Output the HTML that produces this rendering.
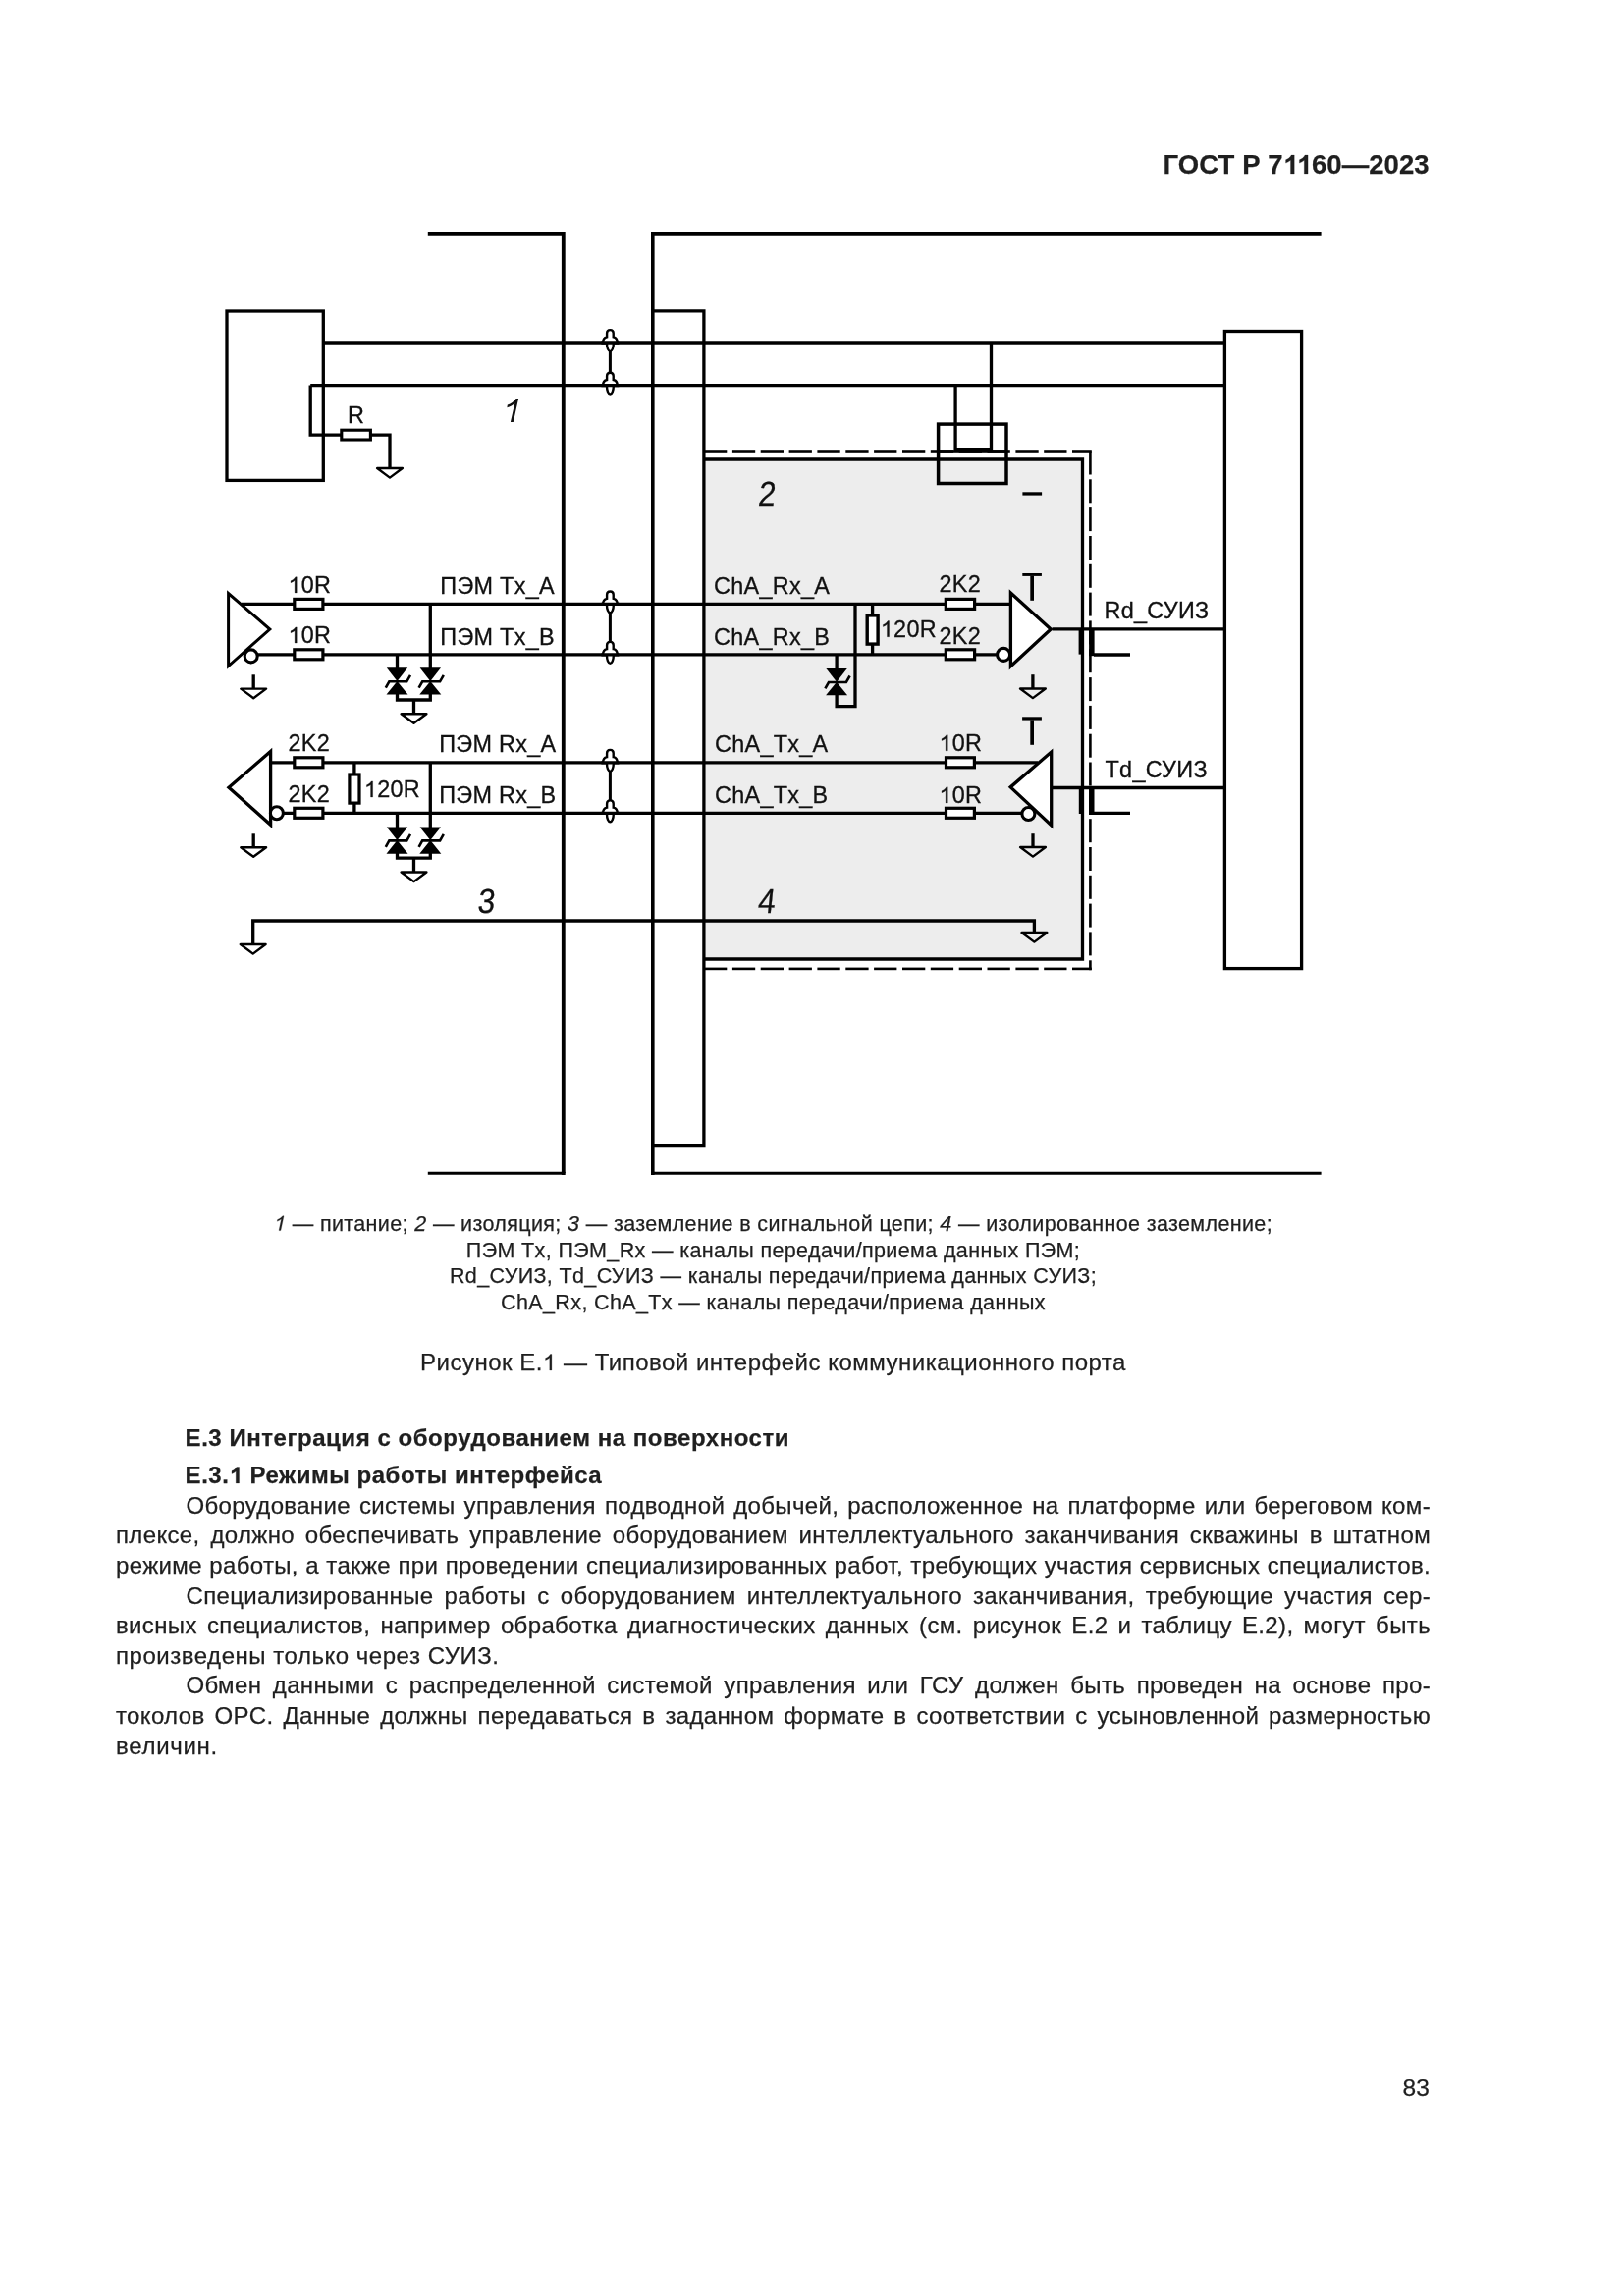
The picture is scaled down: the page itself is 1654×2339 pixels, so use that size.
<!DOCTYPE html>
<html><head><meta charset="utf-8">
<style>
html,body{margin:0;padding:0;background:#fff;}
body{width:1654px;height:2339px;position:relative;overflow:hidden;filter:grayscale(1);font-family:"Liberation Sans",sans-serif;color:#1f1f1f;-webkit-text-stroke:0.25px #1f1f1f;}
body>svg{position:absolute;left:0;top:0;}
.g1{display:inline;position:static;}
svg text{font-family:"Liberation Sans",sans-serif;fill:#111;letter-spacing:0.3px;stroke:#111;stroke-width:0.3px;}
.hdr{position:absolute;right:197px;top:0;font-weight:bold;font-size:27.5px;letter-spacing:0.2px;line-height:0;white-space:nowrap;}
.hdr span{position:absolute;right:0;}
.ab{position:absolute;white-space:nowrap;line-height:0;}
.lg{position:absolute;left:119px;width:1337px;text-align:center;font-size:21.5px;letter-spacing:0.37px;line-height:0;white-space:nowrap;}
.cap{position:absolute;left:119px;width:1337px;text-align:center;font-size:24px;letter-spacing:0.5px;line-height:0;white-space:nowrap;}
.h{position:absolute;left:188.6px;font-weight:bold;font-size:24px;letter-spacing:0.54px;line-height:0;white-space:nowrap;}
.bl{position:absolute;left:118px;width:1339px;font-size:24px;letter-spacing:0.35px;line-height:0;height:0;text-align:justify;text-align-last:justify;white-space:nowrap;}
.bl.ind{left:189.5px;width:1267.5px;}
.bl.nj{letter-spacing:0.4px;}
.bl.nj{text-align:left;text-align-last:left;}
.o1{color:transparent;-webkit-text-stroke:0;}
.pn{position:absolute;font-size:24.5px;line-height:0;white-space:nowrap;}
</style></head>
<body>
<div class="ab" style="left:1184.5px;top:168.37px;font-weight:bold;font-size:27.5px;letter-spacing:0.08px;">ГОСТ Р 7<span class="o1">1</span><span class="o1">1</span>60—2023</div>
<svg width="1654" height="2339" viewBox="0 0 1654 2339">
<rect x="717.0" y="468.0" width="385.5" height="509.0" fill="#ededed"/>
<path d="M435.8,237.9 L573.8,237.9 L573.8,1195.3" fill="none" stroke="#000" stroke-width="3.8" stroke-linejoin="miter"  stroke-linecap="butt"/>
<path d="M573.8,1195.3 L435.8,1195.3" fill="none" stroke="#000" stroke-width="3.1" stroke-linejoin="miter"  stroke-linecap="butt"/>
<path d="M1345.6,237.9 L664.8,237.9 L664.8,1195.3" fill="none" stroke="#000" stroke-width="3.6" stroke-linejoin="miter"  stroke-linecap="butt"/>
<path d="M664.8,1195.3 L1345.6,1195.3" fill="none" stroke="#000" stroke-width="3.1" stroke-linejoin="miter"  stroke-linecap="butt"/>
<rect x="571.9" y="1193.8" width="3.8" height="3.2" fill="#000"/>
<rect x="663.0" y="1193.8" width="3.6" height="3.2" fill="#000"/>
<path d="M664.8,316.9 L716.9,316.9 L716.9,1166.6 L664.8,1166.6" fill="none" stroke="#000" stroke-width="3.3" stroke-linejoin="miter"  stroke-linecap="butt"/>
<path d="M716.9,468.0 L1102.5,468.0 L1102.5,977.0 L716.9,977.0" fill="none" stroke="#000" stroke-width="3.3" stroke-linejoin="miter"  stroke-linecap="butt"/>
<rect x="717.0" y="458.2" width="23.3" height="2.6" fill="#000"/>
<rect x="717.0" y="985.6" width="23.3" height="2.6" fill="#000"/>
<rect x="745.9" y="458.2" width="23.3" height="2.6" fill="#000"/>
<rect x="745.9" y="985.6" width="23.3" height="2.6" fill="#000"/>
<rect x="774.7" y="458.2" width="23.3" height="2.6" fill="#000"/>
<rect x="774.7" y="985.6" width="23.3" height="2.6" fill="#000"/>
<rect x="803.6" y="458.2" width="23.3" height="2.6" fill="#000"/>
<rect x="803.6" y="985.6" width="23.3" height="2.6" fill="#000"/>
<rect x="832.4" y="458.2" width="23.3" height="2.6" fill="#000"/>
<rect x="832.4" y="985.6" width="23.3" height="2.6" fill="#000"/>
<rect x="861.3" y="458.2" width="23.3" height="2.6" fill="#000"/>
<rect x="861.3" y="985.6" width="23.3" height="2.6" fill="#000"/>
<rect x="890.1" y="458.2" width="23.3" height="2.6" fill="#000"/>
<rect x="890.1" y="985.6" width="23.3" height="2.6" fill="#000"/>
<rect x="919.0" y="458.2" width="23.3" height="2.6" fill="#000"/>
<rect x="919.0" y="985.6" width="23.3" height="2.6" fill="#000"/>
<rect x="947.8" y="458.2" width="23.3" height="2.6" fill="#000"/>
<rect x="947.8" y="985.6" width="23.3" height="2.6" fill="#000"/>
<rect x="976.7" y="458.2" width="23.3" height="2.6" fill="#000"/>
<rect x="976.7" y="985.6" width="23.3" height="2.6" fill="#000"/>
<rect x="1005.5" y="458.2" width="23.3" height="2.6" fill="#000"/>
<rect x="1005.5" y="985.6" width="23.3" height="2.6" fill="#000"/>
<rect x="1034.4" y="458.2" width="23.3" height="2.6" fill="#000"/>
<rect x="1034.4" y="985.6" width="23.3" height="2.6" fill="#000"/>
<rect x="1063.2" y="458.2" width="23.3" height="2.6" fill="#000"/>
<rect x="1063.2" y="985.6" width="23.3" height="2.6" fill="#000"/>
<rect x="1092.0" y="458.2" width="19.8" height="2.6" fill="#000"/>
<rect x="1092.0" y="985.6" width="19.8" height="2.6" fill="#000"/>
<rect x="1109.1" y="459.5" width="2.6" height="24.0" fill="#000"/>
<rect x="1109.1" y="488.3" width="2.6" height="24.0" fill="#000"/>
<rect x="1109.1" y="517.1" width="2.6" height="24.0" fill="#000"/>
<rect x="1109.1" y="546.0" width="2.6" height="24.0" fill="#000"/>
<rect x="1109.1" y="574.8" width="2.6" height="24.0" fill="#000"/>
<rect x="1109.1" y="603.6" width="2.6" height="24.0" fill="#000"/>
<rect x="1109.1" y="632.4" width="2.6" height="24.0" fill="#000"/>
<rect x="1109.1" y="661.2" width="2.6" height="24.0" fill="#000"/>
<rect x="1109.1" y="690.1" width="2.6" height="24.0" fill="#000"/>
<rect x="1109.1" y="718.9" width="2.6" height="24.0" fill="#000"/>
<rect x="1109.1" y="747.7" width="2.6" height="24.0" fill="#000"/>
<rect x="1109.1" y="776.5" width="2.6" height="24.0" fill="#000"/>
<rect x="1109.1" y="805.3" width="2.6" height="24.0" fill="#000"/>
<rect x="1109.1" y="834.2" width="2.6" height="24.0" fill="#000"/>
<rect x="1109.1" y="863.0" width="2.6" height="24.0" fill="#000"/>
<rect x="1109.1" y="891.8" width="2.6" height="24.0" fill="#000"/>
<rect x="1109.1" y="920.6" width="2.6" height="24.0" fill="#000"/>
<rect x="1109.1" y="949.4" width="2.6" height="24.0" fill="#000"/>
<rect x="1109.1" y="978.3" width="2.6" height="9.9" fill="#000"/>
<rect x="955.6" y="458.2" width="69.4" height="2.6" fill="#000"/>
<rect x="231.0" y="317.0" width="98.3" height="172.4" fill="none" stroke="#000" stroke-width="3.3"/>
<rect x="1247.4" y="337.5" width="78.2" height="649.1" fill="none" stroke="#000" stroke-width="3.3"/>
<path d="M329.3,349.0 L1247.4,349.0" fill="none" stroke="#000" stroke-width="3.3" stroke-linejoin="miter" stroke-linecap="butt"/>
<path d="M316.2,392.6 L1247.4,392.6" fill="none" stroke="#000" stroke-width="3.3" stroke-linejoin="miter" stroke-linecap="butt"/>
<path d="M316.2,392.6 L316.2,443.1 L350.0,443.1" fill="none" stroke="#000" stroke-width="3.3" stroke-linejoin="miter"  stroke-linecap="butt"/>
<path d="M376.0,443.1 L397.0,443.1 L397.0,477.0" fill="none" stroke="#000" stroke-width="3.3" stroke-linejoin="miter"  stroke-linecap="butt"/>
<rect x="347.8" y="438.2" width="29.6" height="9.8" fill="#fff" stroke="#000" stroke-width="3.1"/>
<path d="M384.1,477.0 L409.9,477.0 L397.0,486.6 Z" fill="none" stroke="#000" stroke-width="2.4" stroke-linejoin="round"/>
<text x="354.0" y="430.8" font-size="23.4" >R</text>
<path transform="translate(516.5,430.1)" d="M3.4,0 L6.3,0 L11.6,-24.1 L9.1,-24.1 C7.0,-21.1 4.0,-18.6 0.3,-17.6 L-0.1,-14.9 C3.1,-15.8 5.8,-17.4 7.8,-19.4 Z" fill="#111"/>
<path d="M1009.5,349.0 L1009.5,457.7 L973.1,457.7 L973.1,392.6" fill="none" stroke="#000" stroke-width="3.3" stroke-linejoin="miter"  stroke-linecap="butt"/>
<rect x="955.6" y="432.1" width="69.4" height="60.4" fill="none" stroke="#000" stroke-width="3.5"/>
<rect x="1041.4" y="501.3" width="19.7" height="3.3" fill="#000"/>
<text transform="translate(771.5,514.7) skewX(-6) scale(0.9,1)" x="0" y="0" font-size="35" stroke="#111" stroke-width="0.45" style="letter-spacing:0">2</text>
<path d="M246.0,615.4 L1029.4,615.4" fill="none" stroke="#000" stroke-width="3.3" stroke-linejoin="miter" stroke-linecap="butt"/>
<path d="M261.0,666.8 L1015.6,666.8" fill="none" stroke="#000" stroke-width="3.3" stroke-linejoin="miter" stroke-linecap="butt"/>
<rect x="299.8" y="610.4" width="29.1" height="10.0" fill="#fff" stroke="#000" stroke-width="3.2"/>
<rect x="299.8" y="661.8" width="29.1" height="10.0" fill="#fff" stroke="#000" stroke-width="3.2"/>
<rect x="963.3" y="610.4" width="29.3" height="10.0" fill="#fff" stroke="#000" stroke-width="3.2"/>
<rect x="963.3" y="661.8" width="29.3" height="10.0" fill="#fff" stroke="#000" stroke-width="3.2"/>
<path d="M232.6,604.5 L232.6,678.5 L274.8,641.1 Z" fill="#fff" stroke="#000" stroke-width="3.0" stroke-linejoin="miter" stroke-miterlimit="10"/>
<circle cx="255.7" cy="668.4" r="6.5" fill="#fff" stroke="#000" stroke-width="3.1"/>
<path d="M258.2,687.3 L258.2,701.6" fill="none" stroke="#000" stroke-width="3.3" stroke-linejoin="miter"  stroke-linecap="butt"/>
<path d="M245.3,701.6 L271.1,701.6 L258.2,711.2 Z" fill="none" stroke="#000" stroke-width="2.4" stroke-linejoin="round"/>
<path d="M438.3,615.4 L438.3,690.0" fill="none" stroke="#000" stroke-width="3.3" stroke-linejoin="miter" stroke-linecap="butt"/>
<path d="M404.5,666.8 L404.5,690.0" fill="none" stroke="#000" stroke-width="3.3" stroke-linejoin="miter" stroke-linecap="butt"/>
<path d="M404.5,700.0 L404.5,713.0 L438.3,713.0 L438.3,700.0" fill="none" stroke="#000" stroke-width="3.3" stroke-linejoin="miter"  stroke-linecap="butt"/>
<path d="M393.8,680.3 L415.2,680.3 L404.5,694.0 Z" fill="#000"/>
<path d="M393.5,707.6 L415.5,707.6 L404.5,694.0 Z" fill="#000"/>
<path d="M392.8,700.7 L396.4,694.3 L414.3,694.3 L418.0,687.8" fill="none" stroke="#000" stroke-width="2.6" stroke-linejoin="miter"/>
<path d="M427.6,680.3 L449.0,680.3 L438.3,694.0 Z" fill="#000"/>
<path d="M427.3,707.6 L449.3,707.6 L438.3,694.0 Z" fill="#000"/>
<path d="M426.6,700.7 L430.2,694.3 L448.1,694.3 L451.8,687.8" fill="none" stroke="#000" stroke-width="2.6" stroke-linejoin="miter"/>
<path d="M421.5,713.0 L421.5,727.2" fill="none" stroke="#000" stroke-width="3.3" stroke-linejoin="miter"  stroke-linecap="butt"/>
<path d="M408.6,727.2 L434.4,727.2 L421.5,736.8 Z" fill="none" stroke="#000" stroke-width="2.4" stroke-linejoin="round"/>
<path d="M871.0,615.4 L871.0,719.6 L852.1,719.6 L852.1,700.0" fill="none" stroke="#000" stroke-width="3.3" stroke-linejoin="miter"  stroke-linecap="butt"/>
<path d="M852.1,666.8 L852.1,690.0" fill="none" stroke="#000" stroke-width="3.3" stroke-linejoin="miter" stroke-linecap="butt"/>
<path d="M841.4,681.0 L862.8,681.0 L852.1,694.7 Z" fill="#000"/>
<path d="M841.1,708.3 L863.1,708.3 L852.1,694.7 Z" fill="#000"/>
<path d="M840.4,701.4 L844.0,695.0 L861.9,695.0 L865.6,688.5" fill="none" stroke="#000" stroke-width="2.6" stroke-linejoin="miter"/>
<path d="M888.6,615.4 L888.6,666.8" fill="none" stroke="#000" stroke-width="3.3" stroke-linejoin="miter" stroke-linecap="butt"/>
<rect x="883.2" y="626.9" width="10.9" height="29.2" fill="#fff" stroke="#000" stroke-width="3.4"/>
<path d="M1029.4,604.0 L1029.4,678.8 L1070.2,641.0 Z" fill="#fff" stroke="#000" stroke-width="3.3" stroke-linejoin="miter" stroke-miterlimit="10"/>
<circle cx="1022.1" cy="666.9" r="6.5" fill="#fff" stroke="#000" stroke-width="3.1"/>
<path d="M1051.9,687.2 L1051.9,701.5" fill="none" stroke="#000" stroke-width="3.3" stroke-linejoin="miter"  stroke-linecap="butt"/>
<path d="M1039.0,701.5 L1064.8,701.5 L1051.9,711.1 Z" fill="none" stroke="#000" stroke-width="2.4" stroke-linejoin="round"/>
<rect x="1041.3" y="584.0" width="19.6" height="2.9" fill="#000"/>
<rect x="1049.3" y="586.7" width="3.7" height="25.1" fill="#000"/>
<path d="M1071.6,640.8 L1247.4,640.8" fill="none" stroke="#000" stroke-width="3.3" stroke-linejoin="miter" stroke-linecap="butt"/>
<rect x="1098.6" y="640.5" width="5.4" height="26.1" fill="#000"/>
<rect x="1109.1" y="640.5" width="5.5" height="27.7" fill="#000"/>
<path d="M1114.0,667.0 L1151.0,667.0" fill="none" stroke="#000" stroke-width="3.3" stroke-linejoin="miter" stroke-linecap="butt"/>
<path d="M275.6,776.8 L1057.0,776.8" fill="none" stroke="#000" stroke-width="3.3" stroke-linejoin="miter" stroke-linecap="butt"/>
<path d="M288.0,828.3 L1041.5,828.3" fill="none" stroke="#000" stroke-width="3.3" stroke-linejoin="miter" stroke-linecap="butt"/>
<rect x="299.8" y="771.8" width="29.1" height="10.0" fill="#fff" stroke="#000" stroke-width="3.2"/>
<rect x="299.8" y="823.3" width="29.1" height="10.0" fill="#fff" stroke="#000" stroke-width="3.2"/>
<rect x="963.5" y="771.8" width="28.9" height="10.0" fill="#fff" stroke="#000" stroke-width="3.2"/>
<rect x="963.5" y="823.3" width="28.9" height="10.0" fill="#fff" stroke="#000" stroke-width="3.2"/>
<path d="M275.6,765.4 L275.6,840.2 L233.0,802.3 Z" fill="#fff" stroke="#000" stroke-width="3.3" stroke-linejoin="miter" stroke-miterlimit="10"/>
<circle cx="281.9" cy="828.2" r="6.5" fill="#fff" stroke="#000" stroke-width="3.1"/>
<path d="M258.2,849.3 L258.2,863.2" fill="none" stroke="#000" stroke-width="3.3" stroke-linejoin="miter"  stroke-linecap="butt"/>
<path d="M245.3,863.2 L271.1,863.2 L258.2,872.8 Z" fill="none" stroke="#000" stroke-width="2.4" stroke-linejoin="round"/>
<path d="M360.9,776.8 L360.9,828.3" fill="none" stroke="#000" stroke-width="3.3" stroke-linejoin="miter" stroke-linecap="butt"/>
<rect x="355.9" y="789.0" width="10.1" height="29.1" fill="#fff" stroke="#000" stroke-width="3.2"/>
<path d="M438.3,776.8 L438.3,850.0" fill="none" stroke="#000" stroke-width="3.3" stroke-linejoin="miter" stroke-linecap="butt"/>
<path d="M404.5,828.3 L404.5,850.0" fill="none" stroke="#000" stroke-width="3.3" stroke-linejoin="miter" stroke-linecap="butt"/>
<path d="M404.5,862.0 L404.5,874.2 L438.3,874.2 L438.3,862.0" fill="none" stroke="#000" stroke-width="3.3" stroke-linejoin="miter"  stroke-linecap="butt"/>
<path d="M393.8,842.4 L415.2,842.4 L404.5,856.1 Z" fill="#000"/>
<path d="M393.5,869.7 L415.5,869.7 L404.5,856.1 Z" fill="#000"/>
<path d="M392.8,862.8 L396.4,856.4 L414.3,856.4 L418.0,849.9" fill="none" stroke="#000" stroke-width="2.6" stroke-linejoin="miter"/>
<path d="M427.6,842.4 L449.0,842.4 L438.3,856.1 Z" fill="#000"/>
<path d="M427.3,869.7 L449.3,869.7 L438.3,856.1 Z" fill="#000"/>
<path d="M426.6,862.8 L430.2,856.4 L448.1,856.4 L451.8,849.9" fill="none" stroke="#000" stroke-width="2.6" stroke-linejoin="miter"/>
<path d="M421.5,874.2 L421.5,888.5" fill="none" stroke="#000" stroke-width="3.3" stroke-linejoin="miter"  stroke-linecap="butt"/>
<path d="M408.6,888.5 L434.4,888.5 L421.5,898.1 Z" fill="none" stroke="#000" stroke-width="2.4" stroke-linejoin="round"/>
<path d="M1070.7,766.0 L1070.7,840.8 L1029.2,801.9 Z" fill="#fff" stroke="#000" stroke-width="3.3" stroke-linejoin="miter" stroke-miterlimit="10"/>
<circle cx="1047.4" cy="829.0" r="6.5" fill="#fff" stroke="#000" stroke-width="3.1"/>
<path d="M1052.0,849.2 L1052.0,863.0" fill="none" stroke="#000" stroke-width="3.3" stroke-linejoin="miter"  stroke-linecap="butt"/>
<path d="M1039.1,863.0 L1064.9,863.0 L1052.0,872.6 Z" fill="none" stroke="#000" stroke-width="2.4" stroke-linejoin="round"/>
<rect x="1041.1" y="730.3" width="19.8" height="3.3" fill="#000"/>
<rect x="1049.3" y="733.4" width="3.7" height="25.4" fill="#000"/>
<path d="M1072.0,802.5 L1247.4,802.5" fill="none" stroke="#000" stroke-width="3.3" stroke-linejoin="miter" stroke-linecap="butt"/>
<rect x="1098.8" y="802.0" width="5.2" height="27.0" fill="#000"/>
<rect x="1109.0" y="802.0" width="5.5" height="28.0" fill="#000"/>
<path d="M1114.0,828.3 L1151.0,828.3" fill="none" stroke="#000" stroke-width="3.3" stroke-linejoin="miter" stroke-linecap="butt"/>
<path d="M621.4,358.0 L621.4,379.6" fill="none" stroke="#000" stroke-width="3.0" stroke-linejoin="miter" stroke-linecap="butt"/>
<path d="M614.1,349.0 C614.1,345.5 615.4,344.0 618.1,343.4 L618.1,339.4 C618.1,335.0 624.7,335.0 624.7,339.4 L624.7,343.4 C627.4,344.0 628.7,345.5 628.7,349.0 M618.0,350.0 C618.0,354.5 619.6,357.9 621.4,357.9 C623.2,357.9 624.8,354.5 624.8,350.0" fill="#fff" stroke="#000" stroke-width="2.4"/>
<path d="M614.1,392.6 C614.1,389.1 615.4,387.6 618.1,387.0 L618.1,383.0 C618.1,378.6 624.7,378.6 624.7,383.0 L624.7,387.0 C627.4,387.6 628.7,389.1 628.7,392.6 M618.0,393.6 C618.0,398.1 619.6,401.5 621.4,401.5 C623.2,401.5 624.8,398.1 624.8,393.6" fill="#fff" stroke="#000" stroke-width="2.4"/>
<path d="M612.4,349.0 H630.4 M612.4,392.6 H630.4" stroke="#000" stroke-width="3.3" fill="none"/>
<path d="M621.4,624.4 L621.4,653.8" fill="none" stroke="#000" stroke-width="3.0" stroke-linejoin="miter" stroke-linecap="butt"/>
<path d="M614.1,615.4 C614.1,611.9 615.4,610.4 618.1,609.8 L618.1,605.8 C618.1,601.4 624.7,601.4 624.7,605.8 L624.7,609.8 C627.4,610.4 628.7,611.9 628.7,615.4 M618.0,616.4 C618.0,620.9 619.6,624.3 621.4,624.3 C623.2,624.3 624.8,620.9 624.8,616.4" fill="#fff" stroke="#000" stroke-width="2.4"/>
<path d="M614.1,666.8 C614.1,663.3 615.4,661.8 618.1,661.2 L618.1,657.2 C618.1,652.8 624.7,652.8 624.7,657.2 L624.7,661.2 C627.4,661.8 628.7,663.3 628.7,666.8 M618.0,667.8 C618.0,672.3 619.6,675.7 621.4,675.7 C623.2,675.7 624.8,672.3 624.8,667.8" fill="#fff" stroke="#000" stroke-width="2.4"/>
<path d="M612.4,615.4 H630.4 M612.4,666.8 H630.4" stroke="#000" stroke-width="3.3" fill="none"/>
<path d="M621.4,785.8 L621.4,815.3" fill="none" stroke="#000" stroke-width="3.0" stroke-linejoin="miter" stroke-linecap="butt"/>
<path d="M614.1,776.8 C614.1,773.3 615.4,771.8 618.1,771.2 L618.1,767.2 C618.1,762.8 624.7,762.8 624.7,767.2 L624.7,771.2 C627.4,771.8 628.7,773.3 628.7,776.8 M618.0,777.8 C618.0,782.3 619.6,785.7 621.4,785.7 C623.2,785.7 624.8,782.3 624.8,777.8" fill="#fff" stroke="#000" stroke-width="2.4"/>
<path d="M614.1,828.3 C614.1,824.8 615.4,823.3 618.1,822.7 L618.1,818.7 C618.1,814.3 624.7,814.3 624.7,818.7 L624.7,822.7 C627.4,823.3 628.7,824.8 628.7,828.3 M618.0,829.3 C618.0,833.8 619.6,837.2 621.4,837.2 C623.2,837.2 624.8,833.8 624.8,829.3" fill="#fff" stroke="#000" stroke-width="2.4"/>
<path d="M612.4,776.8 H630.4 M612.4,828.3 H630.4" stroke="#000" stroke-width="3.3" fill="none"/>
<path d="M1053.4,950.0 L1053.4,938.0 L257.7,938.0 L257.7,962.0" fill="none" stroke="#000" stroke-width="3.3" stroke-linejoin="miter" stroke-linecap="butt"/>
<path d="M244.8,962.0 L270.6,962.0 L257.7,971.6 Z" fill="none" stroke="#000" stroke-width="2.4" stroke-linejoin="round"/>
<path d="M1040.5,950.0 L1066.3,950.0 L1053.4,959.6 Z" fill="none" stroke="#000" stroke-width="2.4" stroke-linejoin="round"/>
<text transform="translate(485.7,929.7) skewX(-6) scale(0.9,1)" x="0" y="0" font-size="35" stroke="#111" stroke-width="0.45" style="letter-spacing:0">3</text>
<text transform="translate(771.3,930.3) skewX(-6) scale(0.9,1)" x="0" y="0" font-size="35" stroke="#111" stroke-width="0.45" style="letter-spacing:0">4</text>
<path transform="translate(293.50,603.90) scale(0.01143,-0.01098)" d="M763,0 L583,0 L583,1147 Q518,1085 415,1024.5 Q312,964 223,931 L223,1105 Q374,1176 485,1275 Q596,1374 646,1466 L763,1466 Z" fill="#111" stroke="#111" stroke-width="26.3"/>
<text x="293.5" y="603.9" font-size="23.4" > 0R</text>
<path transform="translate(293.50,655.00) scale(0.01143,-0.01098)" d="M763,0 L583,0 L583,1147 Q518,1085 415,1024.5 Q312,964 223,931 L223,1105 Q374,1176 485,1275 Q596,1374 646,1466 L763,1466 Z" fill="#111" stroke="#111" stroke-width="26.3"/>
<text x="293.5" y="655.0" font-size="23.4" > 0R</text>
<text x="448.3" y="604.6" font-size="23.4" >ПЭМ Tx_A</text>
<text x="448.3" y="656.5" font-size="23.4" >ПЭМ Tx_B</text>
<text x="727.0" y="604.9" font-size="23.4" >ChA_Rx_A</text>
<text x="727.0" y="657.0" font-size="23.4" >ChA_Rx_B</text>
<path transform="translate(896.80,648.70) scale(0.01143,-0.01098)" d="M763,0 L583,0 L583,1147 Q518,1085 415,1024.5 Q312,964 223,931 L223,1105 Q374,1176 485,1275 Q596,1374 646,1466 L763,1466 Z" fill="#111" stroke="#111" stroke-width="26.3"/>
<text x="896.8" y="648.7" font-size="23.4" > 20R</text>
<text x="956.5" y="602.5" font-size="23.4" >2K2</text>
<text x="956.5" y="656.1" font-size="23.4" >2K2</text>
<text x="1124.5" y="630.1" font-size="23.4" >Rd_СУИЗ</text>
<text x="293.5" y="765.4" font-size="23.4" >2K2</text>
<text x="293.5" y="816.5" font-size="23.4" >2K2</text>
<path transform="translate(370.90,812.00) scale(0.01143,-0.01098)" d="M763,0 L583,0 L583,1147 Q518,1085 415,1024.5 Q312,964 223,931 L223,1105 Q374,1176 485,1275 Q596,1374 646,1466 L763,1466 Z" fill="#111" stroke="#111" stroke-width="26.3"/>
<text x="370.9" y="812.0" font-size="23.4" > 20R</text>
<text x="447.2" y="766.2" font-size="23.4" >ПЭМ Rx_A</text>
<text x="447.2" y="817.7" font-size="23.4" >ПЭМ Rx_B</text>
<text x="728.0" y="766.3" font-size="23.4" >ChA_Tx_A</text>
<text x="728.0" y="818.3" font-size="23.4" >ChA_Tx_B</text>
<path transform="translate(956.50,764.80) scale(0.01143,-0.01098)" d="M763,0 L583,0 L583,1147 Q518,1085 415,1024.5 Q312,964 223,931 L223,1105 Q374,1176 485,1275 Q596,1374 646,1466 L763,1466 Z" fill="#111" stroke="#111" stroke-width="26.3"/>
<text x="956.5" y="764.8" font-size="23.4" > 0R</text>
<path transform="translate(956.50,817.90) scale(0.01143,-0.01098)" d="M763,0 L583,0 L583,1147 Q518,1085 415,1024.5 Q312,964 223,931 L223,1105 Q374,1176 485,1275 Q596,1374 646,1466 L763,1466 Z" fill="#111" stroke="#111" stroke-width="26.3"/>
<text x="956.5" y="817.9" font-size="23.4" > 0R</text>
<text x="1125.5" y="792.1" font-size="23.4" >Td_СУИЗ</text>
<path transform="translate(277.9,1253.6) skewX(-12) scale(0.01050,-0.01009)" d="M763,0 L583,0 L583,1147 Q518,1085 415,1024.5 Q312,964 223,931 L223,1105 Q374,1176 485,1275 Q596,1374 646,1466 L763,1466 Z" fill="#1f1f1f" stroke="#1f1f1f" stroke-width="23.8"/>
<path transform="translate(1306.66,177.00) scale(0.01343,-0.01290)" d="M861,0 L580,0 L580,1059 Q426,915 217,846 L217,1101 Q327,1137 456,1238 Q585,1339 633,1466 L861,1466 Z" fill="#1f1f1f" stroke="#1f1f1f" stroke-width="18.6"/>
<path transform="translate(1320.52,177.00) scale(0.01343,-0.01290)" d="M861,0 L580,0 L580,1059 Q426,915 217,846 L217,1101 Q327,1137 456,1238 Q585,1339 633,1466 L861,1466 Z" fill="#1f1f1f" stroke="#1f1f1f" stroke-width="18.6"/>
<path transform="translate(552.95,1396.00) scale(0.01172,-0.01126)" d="M763,0 L583,0 L583,1147 Q518,1085 415,1024.5 Q312,964 223,931 L223,1105 Q374,1176 485,1275 Q596,1374 646,1466 L763,1466 Z" fill="#1f1f1f" stroke="#1f1f1f" stroke-width="21.3"/>
<path transform="translate(233.45,1511.00) scale(0.01172,-0.01126)" d="M861,0 L580,0 L580,1059 Q426,915 217,846 L217,1101 Q327,1137 456,1238 Q585,1339 633,1466 L861,1466 Z" fill="#1f1f1f" stroke="#1f1f1f" stroke-width="21.3"/>
</svg>
<div class="lg" style="top:1246.75px"><i>&#8199;</i> — питание; <i>2</i> — изоляция; <i>3</i> — заземление в сигнальной цепи; <i>4</i> — изолированное заземление;</div>
<div class="lg" style="top:1273.75px">ПЭМ Tx, ПЭМ_Rx — каналы передачи/приема данных ПЭМ;</div>
<div class="lg" style="top:1300.45px">Rd_СУИЗ, Td_СУИЗ — каналы передачи/приема данных СУИЗ;</div>
<div class="lg" style="top:1326.75px">ChA_Rx, ChA_Tx — каналы передачи/приема данных</div>
<div class="cap" style="top:1387.68px">Рисунок Е.<span class="o1">1</span> — Типовой интерфейс коммуникационного порта</div>
<div class="h" style="top:1465.38px">Е.3 Интеграция с оборудованием на поверхности</div>
<div class="h" style="top:1503.28px">Е.3.<span class="o1">1</span> Режимы работы интерфейса</div>
<div class="bl ind" style="top:1533.88px;">Оборудование системы управления подводной добычей, расположенное на платформе или береговом ком-</div>
<div class="bl" style="top:1564.48px;">плексе, должно обеспечивать управление оборудованием интеллектуального заканчивания скважины в штатном</div>
<div class="bl" style="top:1595.08px;">режиме работы, а также при проведении специализированных работ, требующих участия сервисных специалистов.</div>
<div class="bl ind" style="top:1625.68px;">Специализированные работы с оборудованием интеллектуального заканчивания, требующие участия сер-</div>
<div class="bl" style="top:1656.28px;">висных специалистов, например обработка диагностических данных (см. рисунок Е.2 и таблицу Е.2), могут быть</div>
<div class="bl nj" style="top:1686.88px;letter-spacing:0.53px;">произведены только через СУИЗ.</div>
<div class="bl ind" style="top:1717.48px;">Обмен данными с распределенной системой управления или ГСУ должен быть проведен на основе про-</div>
<div class="bl" style="top:1748.08px;">токолов OPC. Данные должны передаваться в заданном формате в соответствии с усыновленной размерностью</div>
<div class="bl nj" style="top:1778.68px;letter-spacing:0.7px;">величин.</div>
<div class="pn" style="left:1428.5px;top:2127.01px">83</div>
</body></html>
